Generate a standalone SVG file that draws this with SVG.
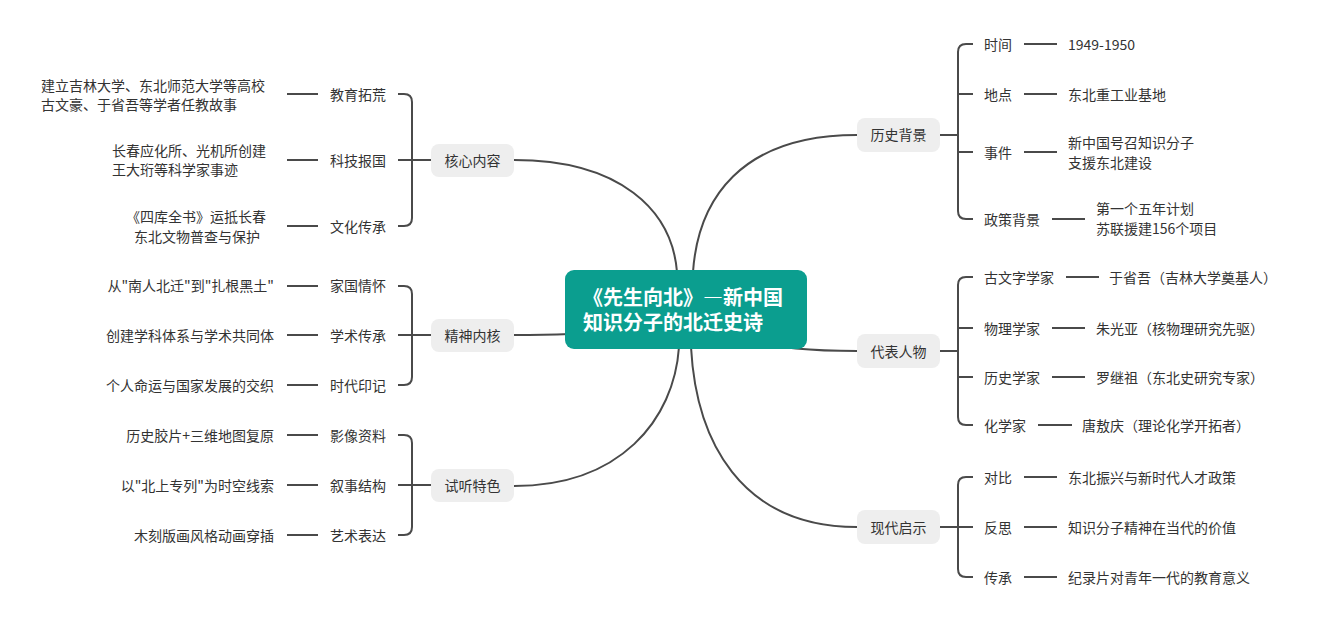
<svg xmlns="http://www.w3.org/2000/svg" width="1320" height="619" viewBox="0 0 1320 619">
<style>
text{font-family:"Noto Sans CJK SC","Liberation Sans",sans-serif;font-size:14px;fill:#333;}
.c{stroke:#4a4a4a;stroke-width:2;fill:none;}
.box{fill:#eeeeee;}
.mid{text-anchor:middle;}
.end{text-anchor:end;}
.root{fill:#0b9e8f;}
.rt{fill:#fff;font-size:20px;font-weight:bold;}
.fw{font-feature-settings:"fwid" 1;}
</style>
<rect width="1320" height="619" fill="#fff"/>
<g id="connectors">
<path class="c" d="M514,160 C620,160 672,210 677,272"/>
<path class="c" d="M514,335 C600,335 640,330 686,320"/>
<path class="c" d="M514,486 C620,486 674,420 679,347"/>
<path class="c" d="M857,135 C740,135 698,200 693,272"/>
<path class="c" d="M857,351 C810,351 780,348 740,340"/>
<path class="c" d="M857,527 C740,527 696,440 691,347"/>
<path class="c" d="M398,94 H404 Q412,94 412,102 V218 Q412,226 404,226 H398"/>
<path class="c" d="M398,160 H431"/>
<path class="c" d="M287,94 H318 M287,160 H318 M287,226 H318"/>
<path class="c" d="M398,286 H404 Q412,286 412,294 V377 Q412,385 404,385 H398"/>
<path class="c" d="M398,335 H431"/>
<path class="c" d="M287,286 H318 M287,335 H318 M287,385 H318"/>
<path class="c" d="M398,435 H404 Q412,435 412,443 V527 Q412,535 404,535 H398"/>
<path class="c" d="M398,485 H431"/>
<path class="c" d="M287,435 H318 M287,485 H318 M287,535 H318"/>
<path class="c" d="M973,44 H966 Q958,44 958,52 V211 Q958,219 966,219 H973"/>
<path class="c" d="M940,135 H958 M958,94 H973 M958,152 H973"/>
<path class="c" d="M1024,44 H1057 M1024,94 H1057 M1024,152 H1057 M1052,219 H1085"/>
<path class="c" d="M973,277 H966 Q958,277 958,285 V417 Q958,425 966,425 H973"/>
<path class="c" d="M940,351 H958 M958,328 H973 M958,377 H973"/>
<path class="c" d="M1066,277 H1099 M1052,328 H1085 M1052,377 H1085 M1038,425 H1072"/>
<path class="c" d="M973,477 H966 Q958,477 958,485 V569 Q958,577 966,577 H973"/>
<path class="c" d="M940,527 H973"/>
<path class="c" d="M1024,477 H1057 M1024,527 H1057 M1024,577 H1057"/>
</g>
<g id="root">
<rect class="root" x="565" y="270" width="242" height="79" rx="9"/>
<text class="rt"><tspan x="583" y="305">《先生向北》<tspan class="fw">—</tspan>新中国</tspan><tspan x="583" y="330">知识分子的北迁史诗</tspan></text>
</g>
<g id="n-core">
<rect class="box" x="431" y="144" width="83" height="33" rx="8"/>
<text class="mid" x="472.5" y="165.5">核心内容</text>
</g>
<g id="n-edu"><text x="330" y="99.5">教育拓荒</text></g>
<g id="n-edu-d"><text x="41" y="91">建立吉林大学、东北师范大学等高校</text><text x="41" y="110">古文豪、于省吾等学者任教故事</text></g>
<g id="n-sci"><text x="330" y="165.5">科技报国</text></g>
<g id="n-sci-d"><text x="112" y="155.5">长春应化所、光机所创建</text><text x="112" y="175">王大珩等科学家事迹</text></g>
<g id="n-cul"><text x="330" y="231.5">文化传承</text></g>
<g id="n-cul-d"><text x="126" y="222">《四库全书》运抵长春</text><text x="134" y="241.5">东北文物普查与保护</text></g>

<g id="n-spirit">
<rect class="box" x="431" y="319" width="83" height="33" rx="8"/>
<text class="mid" x="472.5" y="340.5">精神内核</text>
</g>
<g id="n-home"><text x="330" y="291">家国情怀</text></g>
<g id="n-home-d"><text class="end" x="274" y="291">从"南人北迁"到"扎根黑土"</text></g>
<g id="n-acad"><text x="330" y="340.5">学术传承</text></g>
<g id="n-acad-d"><text class="end" x="274" y="340.5">创建学科体系与学术共同体</text></g>
<g id="n-era"><text x="330" y="390.5">时代印记</text></g>
<g id="n-era-d"><text class="end" x="274" y="390.5">个人命运与国家发展的交织</text></g>

<g id="n-av">
<rect class="box" x="431" y="469" width="83" height="33" rx="8"/>
<text class="mid" x="472.5" y="490.5">试听特色</text>
</g>
<g id="n-img"><text x="330" y="440.5">影像资料</text></g>
<g id="n-img-d"><text class="end" x="274" y="440.5">历史胶片+三维地图复原</text></g>
<g id="n-nar"><text x="330" y="490.5">叙事结构</text></g>
<g id="n-nar-d"><text class="end" x="274" y="490.5">以"北上专列"为时空线索</text></g>
<g id="n-art"><text x="330" y="540.5">艺术表达</text></g>
<g id="n-art-d"><text class="end" x="274" y="540.5">木刻版画风格动画穿插</text></g>

<g id="n-hist">
<rect class="box" x="857" y="118" width="83" height="34" rx="8"/>
<text class="mid" x="898.5" y="140">历史背景</text>
</g>
<g id="n-time"><text x="984" y="49.5">时间</text></g>
<g id="n-time-d"><text x="1068" y="49.5">1949-1950</text></g>
<g id="n-place"><text x="984" y="99.5">地点</text></g>
<g id="n-place-d"><text x="1068" y="99.5">东北重工业基地</text></g>
<g id="n-event"><text x="984" y="157.5">事件</text></g>
<g id="n-event-d"><text x="1068" y="148">新中国号召知识分子</text><text x="1068" y="167.5">支援东北建设</text></g>
<g id="n-policy"><text x="984" y="224.5">政策背景</text></g>
<g id="n-policy-d"><text x="1096" y="214">第一个五年计划</text><text x="1096" y="233.5">苏联援建156个项目</text></g>

<g id="n-people">
<rect class="box" x="857" y="334" width="83" height="34" rx="8"/>
<text class="mid" x="898.5" y="356.5">代表人物</text>
</g>
<g id="n-p1"><text x="984" y="282.5">古文字学家</text></g>
<g id="n-p1-d"><text x="1109" y="282.5">于省吾（吉林大学奠基人）</text></g>
<g id="n-p2"><text x="984" y="333.5">物理学家</text></g>
<g id="n-p2-d"><text x="1096" y="333.5">朱光亚（核物理研究先驱）</text></g>
<g id="n-p3"><text x="984" y="382.5">历史学家</text></g>
<g id="n-p3-d"><text x="1096" y="382.5">罗继祖（东北史研究专家）</text></g>
<g id="n-p4"><text x="984" y="430.5">化学家</text></g>
<g id="n-p4-d"><text x="1082" y="430.5">唐敖庆（理论化学开拓者）</text></g>

<g id="n-modern">
<rect class="box" x="857" y="510" width="83" height="34" rx="8"/>
<text class="mid" x="898.5" y="532.5">现代启示</text>
</g>
<g id="n-m1"><text x="984" y="482.5">对比</text></g>
<g id="n-m1-d"><text x="1068" y="482.5">东北振兴与新时代人才政策</text></g>
<g id="n-m2"><text x="984" y="532.5">反思</text></g>
<g id="n-m2-d"><text x="1068" y="532.5">知识分子精神在当代的价值</text></g>
<g id="n-m3"><text x="984" y="582.5">传承</text></g>
<g id="n-m3-d"><text x="1068" y="582.5">纪录片对青年一代的教育意义</text></g>
</svg>
